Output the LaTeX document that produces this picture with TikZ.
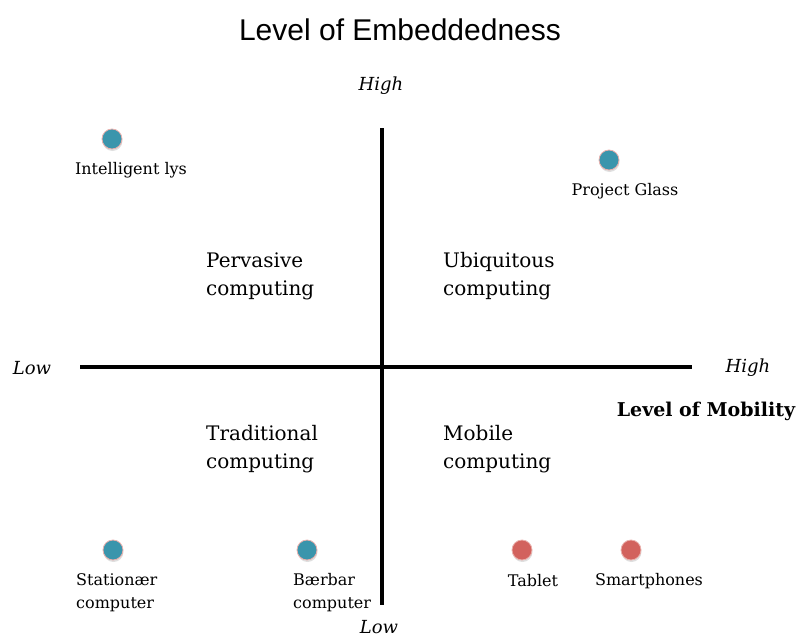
\documentclass[tikz,border=0pt]{standalone}
\usepackage{fontspec}
\setmainfont{DejaVu Serif}
\newfontfamily\titlefont{Liberation Sans}
\usetikzlibrary{shadows}
\definecolor{dotblue}{HTML}{3A95AC}
\definecolor{dotred}{HTML}{D2625D}
\definecolor{dotrim}{HTML}{EAB0AC}

\begin{document}
\begin{tikzpicture}[x=1pt, y=-1pt,
    dot/.style={circle, draw=dotrim, line width=0.8pt, minimum size=20pt, inner sep=0pt,
      drop shadow={shadow xshift=0.5pt, shadow yshift=-2pt, opacity=0.25}},
    item/.style={font=\fontsize{16}{23}\selectfont, align=left, inner sep=0pt},
    quad/.style={font=\fontsize{20}{28}\selectfont, align=left, anchor=west, inner sep=0pt},
    level/.style={font=\fontsize{18}{22}\selectfont\itshape, inner sep=0pt},
    axis/.style={line width=4pt}]%
    \useasboundingbox (0, 0) rectangle (798, 637);

    \node[font=\fontsize{30}{34}\selectfont\titlefont]
      (title) at (400, 30) {Level of Embeddedness};

    % axes
    \coordinate (top) at (382, 128);
    \coordinate (bottom) at (382, 605);
    \coordinate (left) at (80, 367);
    \coordinate (right) at (692, 367);
    \draw[axis] (top) -- (bottom);
    \draw[axis] (left) -- (right);

    \node[level] (hi1) at (381, 86) {High};
    \node[level] (lo1) at (379, 627) {Low};
    \node[level] (lo2) at (32, 368) {Low};
    \node[level] (hi2) at (748, 368) {High};
    \node[font=\fontsize{19}{22}\selectfont\bfseries, inner sep=0pt]
      (mob) at (706, 411) {Level of Mobility};

    % quadrants
    \node[quad] (q1) at (206, 276) {Pervasive\\computing};
    \node[quad] (q2) at (443, 276) {Ubiquitous\\computing};
    \node[quad] (q3) at (206, 449) {Traditional\\computing};
    \node[quad] (q4) at (443, 449) {Mobile\\computing};

    % devices
    \node[dot, fill=dotblue] (d1) at (112, 139) {};
    \node[item] (l1) at (131, 170) {Intelligent lys};
    \node[dot, fill=dotblue] (d2) at (609, 160) {};
    \node[item] (l2) at (625, 191) {Project Glass};
    \node[dot, fill=dotblue] (d3) at (113, 550) {};
    \node[item, anchor=west] (l3) at (76, 593) {Stationær\\computer};
    \node[dot, fill=dotblue] (d4) at (307, 550) {};
    \node[item, anchor=west] (l4) at (293, 593) {Bærbar\\computer};
    \node[dot, fill=dotred] (d5) at (522, 550) {};
    \node[item] (l5) at (533, 581) {Tablet};
    \node[dot, fill=dotred] (d6) at (631, 550) {};
    \node[item] (l6) at (649, 581) {Smartphones};
  \end{tikzpicture}
\end{document}
